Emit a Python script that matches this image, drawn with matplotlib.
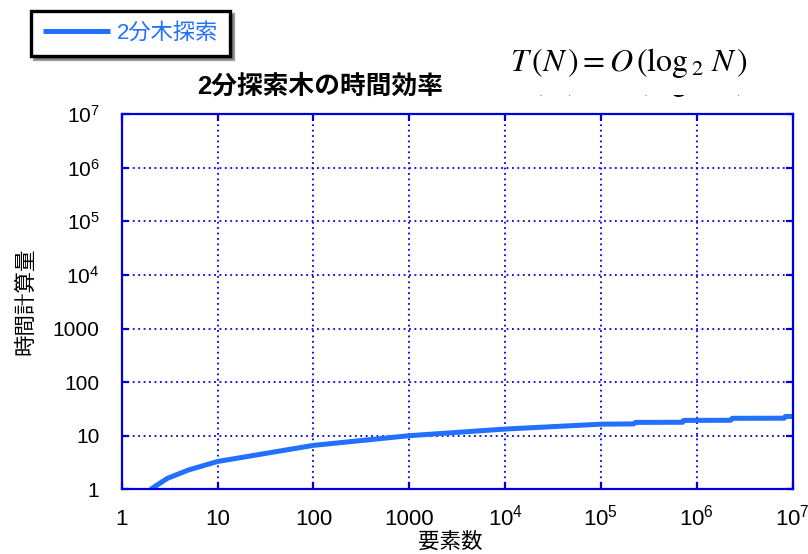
import numpy as np
import matplotlib.pyplot as plt
from matplotlib.patches import Rectangle

# ---- data ----
n_elems = [2, 3, 5, 10, 100, 1000, 1e4, 1e5, 2.2e5, 2.3e5, 7.1e5, 7.3e5,
           2.25e6, 2.35e6, 8.2e6, 8.4e6, 1e7]
t_cost = [1.0, 1.6, 2.3, 3.3, 6.6, 10.0, 13.3, 16.4, 16.6, 17.7, 17.8, 19.3,
          19.4, 21.1, 21.2, 22.8, 22.9]

x_ticks = [1, 10, 100, 1000, 1e4, 1e5, 1e6, 1e7]
x_labels = ['1', '10', '100', '1000', r'$10^4$', r'$10^5$', r'$10^6$', r'$10^7$']
y_ticks = [1, 10, 100, 1000, 1e4, 1e5, 1e6, 1e7]
y_labels = ['1', '10', '100', '1000', r'$10^4$', r'$10^5$', r'$10^6$', r'$10^7$']

series_name = '2分木探索'
title = '2分探索木の時間効率'
x_name = '要素数'
y_name = '時間計算量'
formula = r'$T\,(N\,) = O\,(\log_{\,2}\, N\,)$'

# ---- style ----
plt.rcParams['font.family'] = ['Liberation Sans', 'Noto Sans CJK JP', 'DejaVu Sans']
plt.rcParams['mathtext.fontset'] = 'custom'
plt.rcParams['mathtext.rm'] = 'Liberation Sans'
plt.rcParams['mathtext.it'] = 'Liberation Sans'

axis_blue = '#0000dd'
line_blue = '#2270ff'

fig = plt.figure(figsize=(8.08, 5.54), dpi=100)
ax = fig.add_axes([0.1506, 0.1168, 0.8304, 0.6772])

ax.plot(n_elems, t_cost, color=line_blue, lw=3.6, solid_capstyle='butt',
        label=series_name)

ax.set_xscale('log')
ax.set_yscale('log')
ax.set_xlim(1, 1e7)
ax.set_ylim(1, 1e7)
ax.set_xticks(x_ticks)
ax.set_xticklabels(x_labels)
ax.set_yticks(y_ticks)
ax.set_yticklabels(y_labels)
ax.minorticks_off()

ax.grid(True, which='major', color=axis_blue, ls=(0, (1, 2)), lw=1.3)
for s in ax.spines.values():
    s.set_color(axis_blue)
    s.set_linewidth(1.6)
ax.tick_params(axis='both', which='major', direction='in', length=5, width=1.6,
               color=axis_blue, top=True, right=True)
ax.tick_params(axis='x', pad=26, labelsize=16)
ax.tick_params(axis='y', pad=16, labelsize=15)
for lab in ax.get_xticklabels():
    lab.set_va('baseline')

ax.set_xlabel(x_name, fontsize=15.5)
ax.xaxis.set_label_coords(0.49, -0.112)
ax.set_ylabel(y_name, fontsize=15.5)
ax.yaxis.set_label_coords(-0.128, 0.5)

fig.text(0.396, 0.843, title, fontsize=18.5, fontweight='bold',
         ha='center', va='center')

# formula, plus the cut-off copy underneath (only a thin strip shows)
fig.text(0.778, 0.887, formula, fontsize=23, ha='center', va='center',
         math_fontfamily='stix', zorder=6)
fig.text(0.778, 0.887 - 19 / 554, formula, fontsize=23, ha='center',
         va='center', math_fontfamily='stix', zorder=3)
for y0, y1 in [(35, 95), (103, 112)]:
    fig.add_artist(Rectangle((490 / 808, 1 - y1 / 554), 290 / 808,
                             (y1 - y0) / 554, transform=fig.transFigure,
                             facecolor='white', edgecolor='none', zorder=4))

leg = ax.legend(loc='upper left', bbox_to_anchor=(31 / 808, 1 - 11 / 554),
                bbox_transform=fig.transFigure, borderaxespad=0,
                fancybox=False, shadow={'color': '0.25'}, fontsize=16,
                handlelength=3.0, handletextpad=0.3, borderpad=0.55,
                framealpha=1)
leg.get_frame().set_edgecolor('black')
leg.get_frame().set_linewidth(2.4)
for t in leg.get_texts():
    t.set_color(line_blue)

fig.savefig('out.png', dpi=100)
